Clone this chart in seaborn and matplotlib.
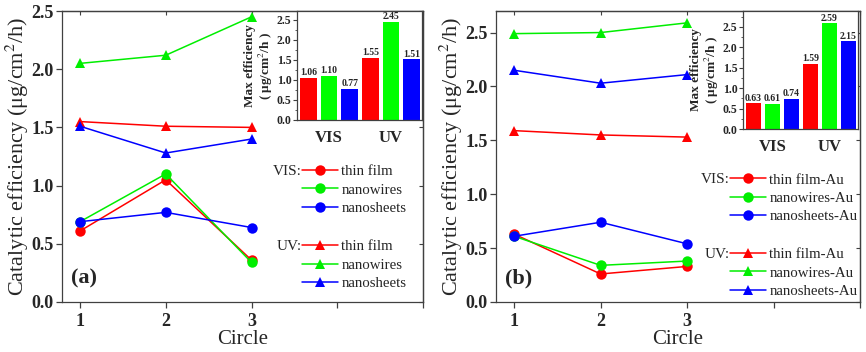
import pandas as pd
import matplotlib.pyplot as plt
import seaborn as sns
from matplotlib.lines import Line2D
from matplotlib.ticker import AutoMinorLocator

# Values
circles = [1, 2, 3]
materials = ["thin film", "nanowires", "nanosheets"]

# panel (a)
a_vis_film = [0.61, 1.05, 0.36]
a_vis_wires = [0.69, 1.10, 0.34]
a_vis_sheets = [0.69, 0.77, 0.64]
a_uv_film = [1.55, 1.51, 1.50]
a_uv_wires = [2.05, 2.12, 2.45]
a_uv_sheets = [1.51, 1.28, 1.40]
a_max = [1.06, 1.10, 0.77, 1.55, 2.45, 1.51]

# panel (b)
b_vis_film = [0.63, 0.26, 0.33]
b_vis_wires = [0.61, 0.34, 0.38]
b_vis_sheets = [0.61, 0.74, 0.54]
b_uv_film = [1.59, 1.55, 1.53]
b_uv_wires = [2.49, 2.50, 2.59]
b_uv_sheets = [2.15, 2.03, 2.11]
b_max = [0.63, 0.61, 0.74, 1.59, 2.59, 2.15]

bar_keys = ["VIS film", "VIS wires", "VIS sheets", "UV film", "UV wires", "UV sheets"]
group_labels = ["VIS", "UV"]

colors = {"thin film": "#FF0000", "nanowires": "#00EE00", "nanosheets": "#0000FF"}
bar_colors = ["#FF0000", "#00FF00", "#0000FF"] * 2


def make_df(vis, uv):
    rows = []
    for light, series in (("VIS", vis), ("UV", uv)):
        for mat, vals in zip(materials, series):
            for c, v in zip(circles, vals):
                rows.append({"Circle": c, "Eff": v, "Material": mat, "Light": light})
    return pd.DataFrame(rows)


df_a = make_df([a_vis_film, a_vis_wires, a_vis_sheets], [a_uv_film, a_uv_wires, a_uv_sheets])
df_b = make_df([b_vis_film, b_vis_wires, b_vis_sheets], [b_uv_film, b_uv_wires, b_uv_sheets])

sns.set_style("ticks")
plt.rcParams["font.family"] = ["Liberation Serif", "DejaVu Serif"]
plt.rcParams["mathtext.fontset"] = "stix"
plt.rcParams["axes.edgecolor"] = "#404040"
plt.rcParams["axes.linewidth"] = 0.9

fig = plt.figure(figsize=(8.66, 3.52), dpi=100)
W, H = 866, 352


def rect(x0, x1, top, bottom):
    return [x0 / W, (H - bottom) / H, (x1 - x0) / W, (bottom - top) / H]


def main_panel(r, df, ylim, tag, suffix, leg_pos):
    ax = fig.add_axes(r)
    sns.lineplot(data=df, x="Circle", y="Eff", hue="Material", style="Light",
                 markers={"VIS": "o", "UV": "^"}, dashes=False, palette=colors,
                 hue_order=materials, legend=False, ax=ax, lw=1.1, ms=7.5,
                 markeredgewidth=0, clip_on=False)
    ax.set_xlim(0.79, 5.0)
    ax.set_ylim(*ylim)
    ax.set_xticks([1, 2, 3, 4, 5], ["1", "2", "3", "", ""])
    ax.set_yticks([0, 0.5, 1.0, 1.5, 2.0, 2.5])
    ax.set_yticklabels([f"{v:.1f}" for v in [0, 0.5, 1.0, 1.5, 2.0, 2.5]])
    for lab in ax.get_xticklabels() + ax.get_yticklabels():
        lab.set_fontweight("bold")
        lab.set_fontsize(13)
    ax.tick_params(direction="out", length=4, width=0.9, color="#404040", pad=2)
    ax.tick_params(axis="x", pad=4)
    sec = ax.secondary_yaxis("right")
    sec.set_yticks(ax.get_yticks())
    sec.tick_params(direction="in", length=3, labelright=False, color="#404040")
    sec2 = ax.secondary_xaxis("top")
    sec2.set_xticks([1, 2, 3, 4, 5])
    sec2.tick_params(direction="in", length=3, labeltop=False, color="#404040")
    ax.set_xlabel("Circle", fontsize=15, labelpad=0)
    ax.set_ylabel("Catalytic efficiency (μg/cm$^2$/h)", fontsize=16, labelpad=0)
    ax.text(0.025, 0.082, tag, transform=ax.transAxes, fontsize=16,
            fontweight="bold", va="center", ha="left")

    # two custom legends: VIS (circles) and UV (triangles)
    hx, vis_y, uv_y = leg_pos
    for i, (light, marker, ypos) in enumerate((("VIS", "o", vis_y), ("UV", "^", uv_y))):
        handles = [Line2D([], [], color=colors[m], marker=marker, lw=1.1, ms=7.5,
                          markeredgewidth=0) for m in materials]
        labels = [m + suffix for m in materials]
        leg = ax.legend(handles, labels, loc="center left", bbox_to_anchor=(hx, ypos),
                        frameon=False, fontsize=10.7, handlelength=2.4,
                        handletextpad=0.25, labelspacing=0.33, borderpad=0,
                        borderaxespad=0)
        if i == 0:
            ax.add_artist(leg)
        ax.text(hx, ypos + 0.064, light + ":", transform=ax.transAxes,
                fontsize=11, ha="right", va="center")
    return ax


def inset_panel(r, values, ylim):
    ax = fig.add_axes(r)
    dfb = pd.DataFrame({"Bar": bar_keys, "Max": values})
    sns.barplot(data=dfb, x="Bar", y="Max", hue="Bar", palette=bar_colors,
                legend=False, width=0.8, ax=ax, saturation=1, edgecolor="none")
    for cont in ax.containers:
        ax.bar_label(cont, fmt="%.2f", fontsize=7, fontweight="bold", padding=0.5)
    ax.set_xlim(-0.55, 5.5)
    ax.set_ylim(*ylim)
    ax.set_xticks([1, 4], group_labels)
    ax.set_yticks([0, 0.5, 1.0, 1.5, 2.0, 2.5])
    ax.set_yticklabels([f"{v:.1f}" for v in [0, 0.5, 1.0, 1.5, 2.0, 2.5]])
    ax.yaxis.set_minor_locator(AutoMinorLocator(2))
    for lab in ax.get_yticklabels():
        lab.set_fontweight("bold")
        lab.set_fontsize(8.5)
    for lab in ax.get_xticklabels():
        lab.set_fontweight("bold")
        lab.set_fontsize(12)
    ax.tick_params(axis="y", which="major", direction="out", length=3, pad=1,
                   color="#404040")
    ax.tick_params(axis="y", which="minor", direction="out", length=1.8,
                   color="#404040")
    ax.tick_params(axis="x", length=0, pad=7)
    ax.set_xlabel("")
    ax.set_ylabel("Max efficiency\n( μg/cm$^2$/h )", fontsize=9.5,
                  fontweight="bold", labelpad=1, linespacing=1.1)
    return ax


main_panel(rect(62, 423, 11, 302), df_a, (0, 2.5), "(a)", "", (0.665, 0.385, 0.127))
main_panel(rect(496, 860, 11, 302), df_b, (0, 2.7), "(b)", "-Au", (0.643, 0.357, 0.10))
inset_panel(rect(297, 422, 11, 120), a_max, (0, 2.72))
inset_panel(rect(743, 858, 11, 129), b_max, (0, 2.89))

fig.savefig("out.png", dpi=100, facecolor="white")
